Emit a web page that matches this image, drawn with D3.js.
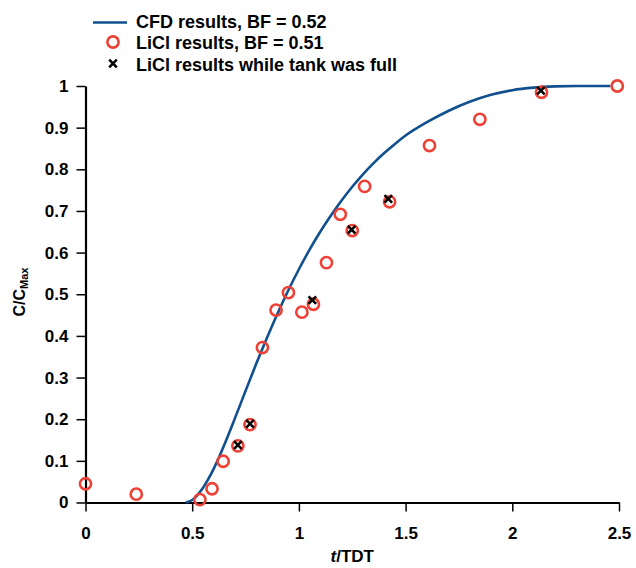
<!DOCTYPE html>
<html>
<head>
<meta charset="utf-8">
<script src="https://cdn.jsdelivr.net/npm/d3@7"></script>
<style>
  body { margin: 0; background: #fff; }
  svg { display: block; font-family: "Liberation Sans", Arial, Helvetica, sans-serif; }
</style>
</head>
<body>
<div id="chart"></div>
<script>
// CFD breakthrough curve (t/TDT, C/Cmax)
const cfdT = [0.47, 0.50, 0.55, 0.60, 0.65, 0.70, 0.75, 0.80, 0.85, 0.90, 0.95, 1.00, 1.05, 1.10,
  1.15, 1.20, 1.25, 1.30, 1.35, 1.40, 1.45, 1.50, 1.60, 1.70, 1.80, 1.90, 2.00, 2.10, 2.20, 2.30, 2.40, 2.46];
const cfdC = [0, 0.006, 0.035, 0.08, 0.138, 0.202, 0.268, 0.333, 0.395, 0.454, 0.509, 0.56, 0.607, 0.65,
  0.689, 0.725, 0.758, 0.788, 0.815, 0.839, 0.861, 0.881, 0.913, 0.94, 0.962, 0.979, 0.99, 0.996, 0.999, 1.0, 1.0, 1.0];

// LiCl measurements
const liclT = [0, 0.238, 0.536, 0.593, 0.645, 0.714, 0.771, 0.829, 0.893, 0.951, 1.014, 1.068,
  1.129, 1.194, 1.25, 1.308, 1.425, 1.612, 1.848, 2.137, 2.492];
const liclC = [0.045, 0.02, 0.007, 0.033, 0.099, 0.136, 0.187, 0.372, 0.462, 0.504, 0.457, 0.476,
  0.576, 0.692, 0.653, 0.759, 0.722, 0.857, 0.92, 0.985, 1.0];

// LiCl samples taken while the tank was full
const fullT = [0.714, 0.771, 1.063, 1.247, 1.419, 2.134];
const fullC = [0.138, 0.189, 0.486, 0.655, 0.729, 0.989];

const xTicks = [0, 0.5, 1, 1.5, 2, 2.5];
const yTicks = [0, 0.1, 0.2, 0.3, 0.4, 0.5, 0.6, 0.7, 0.8, 0.9, 1];

const legendLabels = ['CFD results, BF = 0.52', 'LiCl results, BF = 0.51', 'LiCl results while tank was full'];

const BLUE = '#11508f', RED = '#ee4136';
const W = 636, H = 568;

const svg = d3.select('#chart').append('svg').attr('width', W).attr('height', H);

const x = d3.scaleLinear().domain([0, 2.5]).range([85.5, 619]);
const y = d3.scaleLinear().domain([0, 1]).range([502.5, 86]);

const fmt = d => String(+d.toFixed(1));

// axes
svg.append('g').attr('transform', `translate(0,${y(0)})`)
  .call(d3.axisBottom(x).tickValues(xTicks).tickFormat(fmt).tickSize(9).tickSizeOuter(0).tickPadding(15))
  .call(g => g.select('.domain').attr('stroke', '#000').attr('stroke-width', 2.2))
  .call(g => g.selectAll('.tick line').attr('stroke', '#000').attr('stroke-width', 1.5))
  .call(g => g.selectAll('.tick text').attr('fill', '#000').attr('font-size', '17px')
    .attr('font-weight', 'bold').attr('font-family', 'inherit'));

svg.append('g').attr('transform', `translate(${x(0)},0)`)
  .call(d3.axisLeft(y).tickValues(yTicks).tickFormat(fmt).tickSize(9).tickSizeOuter(0).tickPadding(8))
  .call(g => g.select('.domain').attr('stroke', '#000').attr('stroke-width', 2.2))
  .call(g => g.selectAll('.tick line').attr('stroke', '#000').attr('stroke-width', 1.5))
  .call(g => g.selectAll('.tick text').attr('fill', '#000').attr('font-size', '17px')
    .attr('font-weight', 'bold').attr('font-family', 'inherit'));

// axis titles
const xt = svg.append('text').attr('x', (x(0) + x(2.5)) / 2).attr('y', 562)
  .attr('text-anchor', 'middle').attr('font-size', '17px').attr('font-weight', 'bold');
xt.append('tspan').attr('font-style', 'italic').text('t');
xt.append('tspan').text('/TDT');

const yt = svg.append('text').attr('transform', 'translate(25,292) rotate(-90)')
  .attr('text-anchor', 'middle').attr('font-size', '16px').attr('font-weight', 'bold');
yt.append('tspan').text('C/C');
yt.append('tspan').attr('font-size', '11px').attr('dy', 3).text('Max');

// CFD curve
const cfd = cfdT.map((t, i) => [t, cfdC[i]]);
svg.append('path').datum(cfd)
  .attr('fill', 'none').attr('stroke', BLUE).attr('stroke-width', 2.6)
  .attr('d', d3.line().x(d => x(d[0])).y(d => y(d[1])).curve(d3.curveMonotoneX));

// LiCl circles
const licl = liclT.map((t, i) => [t, liclC[i]]);
svg.selectAll('.licl').data(licl).join('circle').attr('class', 'licl')
  .attr('cx', d => x(d[0])).attr('cy', d => y(d[1])).attr('r', 5.6)
  .attr('fill', 'none').attr('stroke', RED).attr('stroke-width', 2.6);

// full-tank crosses
const cross = (cx, cy, s) => `M${cx - s},${cy - s}L${cx + s},${cy + s}M${cx - s},${cy + s}L${cx + s},${cy - s}`;
const full = fullT.map((t, i) => [t, fullC[i]]);
svg.selectAll('.full').data(full).join('path').attr('class', 'full')
  .attr('d', d => cross(x(d[0]), y(d[1]), 3.8))
  .attr('stroke', '#000').attr('stroke-width', 2.5).attr('fill', 'none');

// legend
const lg = svg.append('g');
const rowY = [22.5, 43.5, 65];
lg.append('line').attr('x1', 93).attr('x2', 127).attr('y1', rowY[0]).attr('y2', rowY[0])
  .attr('stroke', BLUE).attr('stroke-width', 2.6);
lg.append('circle').attr('cx', 113).attr('cy', rowY[1] - 1.5).attr('r', 5.6)
  .attr('fill', 'none').attr('stroke', RED).attr('stroke-width', 2.6);
lg.append('path').attr('d', cross(113, rowY[2] - 1.5, 3.8))
  .attr('stroke', '#000').attr('stroke-width', 2.5);
lg.selectAll('.lbl').data(legendLabels).join('text').attr('class', 'lbl')
  .attr('x', 136).attr('y', (d, i) => rowY[i] + 5.5)
  .attr('font-size', '18px').attr('font-weight', 'bold').attr('fill', '#000')
  .text(d => d);
</script>
</body>
</html>
